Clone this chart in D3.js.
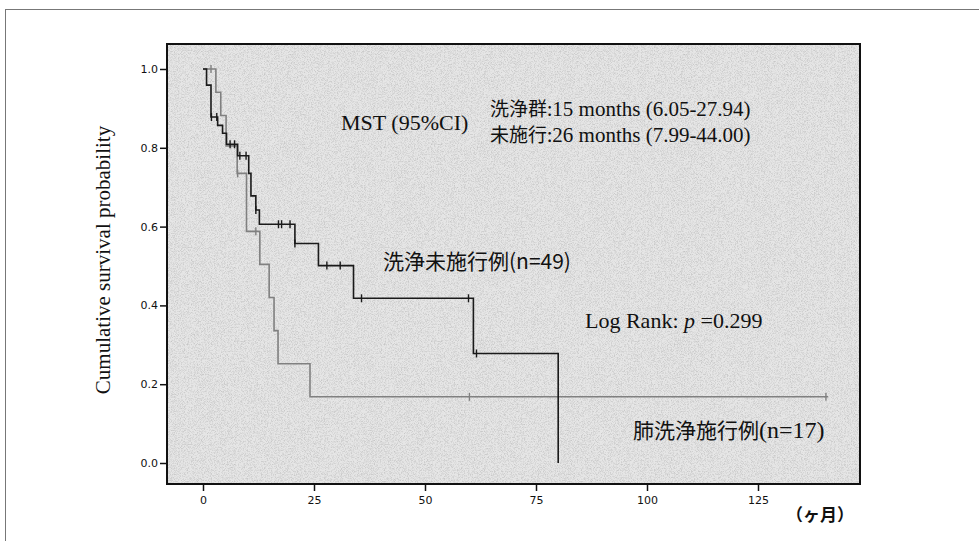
<!DOCTYPE html>
<html><head><meta charset="utf-8">
<script src="https://cdn.jsdelivr.net/npm/d3@7"></script>
<style>body{margin:0;background:#fff;} svg{display:block}</style>
</head><body>
<svg id="c" width="979" height="541"></svg>
<script>
// ---- data ----
const xTicks = [0, 25, 50, 75, 100, 125];
const yTicks = [0.0, 0.2, 0.4, 0.6, 0.8, 1.0];
const yTickLabels = ["0.0", "0.2", "0.4", "0.6", "0.8", "1.0"];

// 洗浄未施行例 (n=49): event times (months) and survival after each event
const untreatedTimes = [0.8, 1.8, 3.3, 4.4, 5.3, 7.8, 10.3, 10.8, 11.9, 12.7, 20.7, 26.0, 33.9, 60.9, 80.0];
const untreatedSurv  = [0.959, 0.878, 0.857, 0.837, 0.809, 0.780, 0.735, 0.678, 0.642, 0.606, 0.557, 0.501, 0.418, 0.278, 0.0];
const untreatedCensor = [1.9, 3.1, 6.1, 7.1, 8.3, 9.7, 11.9, 17.0, 17.7, 19.6, 20.7, 27.9, 30.9, 35.7, 59.8, 61.6];
const untreatedEnd = 80.0;

// 肺洗浄施行例 (n=17)
const treatedTimes = [2.9, 4.0, 5.2, 7.7, 9.8, 12.8, 14.9, 16.0, 16.9, 24.1];
const treatedSurv  = [0.941, 0.882, 0.805, 0.735, 0.588, 0.504, 0.420, 0.336, 0.252, 0.168];
const treatedCensor = [1.8, 7.8, 11.9, 60.0, 140.3];
const treatedEnd = 140.8;

// ---- chart ----
const svg = d3.select("#c");
const frame = {l: 167, t: 44, r: 860, b: 484};
const x = d3.scaleLinear().domain([0, 125]).range([203, 758]);
const y = d3.scaleLinear().domain([0, 1]).range([463, 69]);

const defs = svg.append("defs");
const filt = defs.append("filter").attr("id", "grain")
  .attr("x", 0).attr("y", 0).attr("width", 1).attr("height", 1);
filt.append("feTurbulence").attr("type", "fractalNoise").attr("baseFrequency", 1.3)
  .attr("numOctaves", 1).attr("seed", 7).attr("result", "n");
filt.append("feColorMatrix").attr("in", "n").attr("type", "matrix")
  .attr("values", "0 0 0 0 0.5  0 0 0 0 0.5  0 0 0 0 0.5  0 0 0 2.0 -0.85");

// outer border
svg.append("rect").attr("x", 5.5).attr("y", 9.5).attr("width", 990).attr("height", 560)
  .attr("fill", "none").attr("stroke", "#777").attr("stroke-width", 1);

// plot background (stippled grey)
svg.append("rect").attr("x", frame.l).attr("y", frame.t)
  .attr("width", frame.r - frame.l).attr("height", frame.b - frame.t)
  .attr("fill", "#e6e6e6");
svg.append("rect").attr("x", frame.l).attr("y", frame.t)
  .attr("width", frame.r - frame.l).attr("height", frame.b - frame.t)
  .attr("fill", "#fff").attr("filter", "url(#grain)");

function survAt(times, surv, t) {
  let s = 1;
  for (let i = 0; i < times.length; i++) if (times[i] <= t) s = surv[i];
  return s;
}
function stepPoints(times, surv, end) {
  const pts = [[0, 1]];
  times.forEach((t, i) => pts.push([t, surv[i]]));
  if (end > times[times.length - 1]) pts.push([end, surv[surv.length - 1]]);
  return pts;
}
const line = d3.line().x(d => x(d[0])).y(d => y(d[1])).curve(d3.curveStepAfter);

function drawCurve(times, surv, censor, end, color) {
  svg.append("path").attr("d", line(stepPoints(times, surv, end)))
    .attr("fill", "none").attr("stroke", color).attr("stroke-width", 1.6);
  svg.append("g").selectAll("line").data(censor).join("line")
    .attr("x1", d => x(d)).attr("x2", d => x(d))
    .attr("y1", d => y(survAt(times, surv, d)) - 4)
    .attr("y2", d => y(survAt(times, surv, d)) + 4)
    .attr("stroke", color).attr("stroke-width", 1.4);
}
drawCurve(treatedTimes, treatedSurv, treatedCensor, treatedEnd, "#808080");
drawCurve(untreatedTimes, untreatedSurv, untreatedCensor, untreatedEnd, "#1a1a1a");

// frame
svg.append("rect").attr("x", frame.l).attr("y", frame.t)
  .attr("width", frame.r - frame.l).attr("height", frame.b - frame.t)
  .attr("fill", "none").attr("stroke", "#111").attr("stroke-width", 2);

// axes
const yAxis = d3.axisLeft(y).tickValues(yTicks).tickFormat((d, i) => yTickLabels[i]).tickSize(7).tickPadding(2);
const gy = svg.append("g").attr("transform", `translate(${frame.l},0)`).call(yAxis);
gy.select(".domain").remove();
gy.selectAll("line").attr("stroke", "#111").attr("stroke-width", 1.5);
gy.selectAll("text").attr("font-family", "DejaVu Sans").attr("font-size", 11).attr("fill", "#111");

const xAxis = d3.axisBottom(x).tickValues(xTicks).tickSize(7).tickPadding(5);
const gx = svg.append("g").attr("transform", `translate(0,${frame.b})`).call(xAxis);
gx.select(".domain").remove();
gx.selectAll("line").attr("stroke", "#111").attr("stroke-width", 1.5);
gx.selectAll("text").attr("font-family", "DejaVu Sans").attr("font-size", 11).attr("fill", "#111");

const serif = "Liberation Serif";
const cjk = "Noto Sans CJK JP";

// y axis title
svg.append("text").attr("transform", "translate(110,260) rotate(-90)")
  .attr("text-anchor", "middle").attr("font-family", serif).attr("font-size", 21)
  .attr("fill", "#111").text("Cumulative survival probability");

svg.append("text").attr("x", 341).attr("y", 130).attr("font-family", serif).attr("font-size", 22)
  .attr("fill", "#111").text("MST (95%CI)");

const l1 = svg.append("text").attr("x", 490).attr("y", 116).attr("fill", "#111");
l1.append("tspan").attr("font-family", cjk).attr("font-size", 19).text("洗浄群:");
l1.append("tspan").attr("font-family", serif).attr("font-size", 21).text("15 months (6.05-27.94)");
const l2 = svg.append("text").attr("x", 490).attr("y", 142).attr("fill", "#111");
l2.append("tspan").attr("font-family", cjk).attr("font-size", 19).text("未施行:");
l2.append("tspan").attr("font-family", serif).attr("font-size", 21).text("26 months (7.99-44.00)");

svg.append("text").attr("x", 383).attr("y", 269).attr("font-family", cjk).attr("font-size", 21)
  .attr("fill", "#111").text("洗浄未施行例(n=49)");

const lr = svg.append("text").attr("x", 585).attr("y", 328).attr("font-family", serif).attr("font-size", 22).attr("fill", "#111");
lr.append("tspan").text("Log Rank: ");
lr.append("tspan").attr("font-style", "italic").text("p");
lr.append("tspan").text(" =0.299");

const tr = svg.append("text").attr("x", 633).attr("y", 438).attr("fill", "#111");
tr.append("tspan").attr("font-family", cjk).attr("font-size", 21).text("肺洗浄施行例");
tr.append("tspan").attr("font-family", serif).attr("font-size", 24).text("(n=17)");

svg.append("text").attr("x", 786).attr("y", 521).attr("font-family", cjk).attr("font-size", 17)
  .attr("font-weight", "bold").attr("fill", "#111").text("（ヶ月）");
</script>
</body></html>
